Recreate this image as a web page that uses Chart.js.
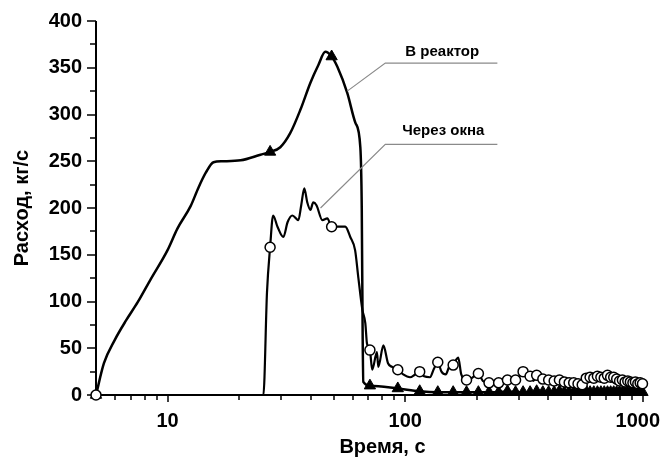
<!DOCTYPE html>
<html>
<head>
<meta charset="utf-8">
<script src="https://cdn.jsdelivr.net/npm/chart.js@4/dist/chart.umd.min.js"></script>
<style>
  html, body { margin: 0; padding: 0; background: #fff; }
  #wrap { width: 661px; height: 461px; }
</style>
</head>
<body>
<div id="wrap"><canvas id="flow" width="661" height="461"></canvas></div>
<script>
// flow into the reactor, kg/s over time, s
var reactorTime = [5, 5.4, 6, 6.7, 7.5, 8.5, 10, 11, 12.5, 13.5, 14.5, 15.6, 17, 20.3, 24.6, 27, 29.8, 32.8, 36.2, 39.9, 43.1, 46.1, 49, 51.8, 57, 61.7, 64.7, 65.6, 66.2, 66.6, 71, 93, 115, 137, 159, 181, 203, 225, 247, 269, 291, 313, 335, 357, 379, 401, 423, 445, 467, 489, 511, 533, 555, 577, 599, 621, 643, 665, 687, 709, 731, 753, 775, 797, 819, 841, 863, 885, 907, 929, 951, 973, 995];
var reactorFlow = [0, 34, 59, 80, 99.5, 124, 155, 178, 202, 222, 238, 249, 250, 251, 257, 260, 265, 280, 305, 334, 353, 367, 362, 351, 323, 291, 265, 200, 60, 14, 10, 7, 4, 3, 3, 3, 3, 3, 3, 4, 3, 3, 3, 4, 3, 3, 3, 4, 3, 3, 3, 3, 3, 4, 3, 3, 3, 3, 3, 3, 3, 3, 3, 3, 3, 3, 3, 3, 3, 3, 3, 3, 3];

// flow through the windows
var windowTime = [5, 25.3, 26.2, 27, 27.8, 29, 30.7, 32, 33.5, 35.5, 36.5, 37.6, 38.7, 39.9, 41, 42.3, 44.8, 47, 49, 52, 55.9, 58.7, 61.5, 63.5, 66, 67.9, 69, 71, 72.6, 76, 77, 80.9, 84.6, 88, 93, 98, 104.7, 110, 115, 120, 127, 132, 137, 142, 148, 153, 159, 164, 167, 172, 181, 190, 203, 212, 225, 235, 247, 258, 269, 280, 291, 302, 313, 324, 335, 346, 357, 379, 401, 423, 445, 467, 489, 511, 533, 555, 577, 599, 621, 643, 665, 687, 709, 731, 753, 775, 797, 819, 841, 863, 885, 907, 929, 951, 973, 995];
var windowFlow = [0, 0, 110, 158, 192, 180, 169, 185, 192, 187, 203, 221, 206, 198, 206, 203, 187, 189, 180, 180, 180, 169, 155, 125, 91, 77, 55, 48, 27, 46, 30, 53, 34, 30, 27, 22, 19, 22, 25, 20, 19, 28, 35, 25, 22, 30, 32, 38, 40, 22, 16, 18, 23, 15, 13, 14, 13, 17, 16, 18, 16, 20, 25, 18, 20, 15, 21, 17, 16, 15, 16, 14, 13, 13, 12, 11, 18, 19, 18, 20, 19, 18, 21, 19, 19, 17, 15, 16, 14, 15, 14, 13, 14, 12, 13, 12];

// marker times and the values at them
var markTime = [5, 27, 49, 71, 93, 115, 137, 159, 181, 203, 225, 247, 269, 291, 313, 335, 357, 379, 401, 423, 445, 467, 489, 511, 533, 555, 577, 599, 621, 643, 665, 687, 709, 731, 753, 775, 797, 819, 841, 863, 885, 907, 929, 951, 973, 995];
var reactorMarks = [0, 260, 362, 10, 7, 4, 3, 3, 3, 3, 3, 3, 4, 3, 3, 3, 4, 3, 3, 3, 4, 3, 3, 3, 3, 3, 4, 3, 3, 3, 3, 3, 3, 3, 3, 3, 3, 3, 3, 3, 3, 3, 3, 3, 3, 3];
var windowMarks = [0, 158, 180, 48, 27, 25, 35, 32, 16, 23, 13, 13, 16, 16, 25, 20, 21, 17, 16, 15, 16, 14, 13, 13, 12, 11, 18, 19, 18, 20, 19, 18, 21, 19, 19, 17, 15, 16, 14, 15, 14, 13, 14, 12, 13, 12];

var xLabels = [10, 100, 1000];
var xMinor = [6, 7, 8, 9, 20, 30, 40, 50, 60, 70, 80, 90, 200, 300, 400, 500, 600, 700, 800, 900];
var yLabels = [0, 50, 100, 150, 200, 250, 300, 350, 400];
var yMinor = [25, 75, 125, 175, 225, 275, 325, 375];

// callouts: label position, elbow, end of the leader on the curve
var callouts = [
    { text: 'В реактор', label: [143, 367], elbow: [82.4, 355], tail: 244, end: [57, 325] },
    { text: 'Через окна', label: [144.5, 283], elbow: [82.4, 268], tail: 244, end: [44, 200] }
];

var FONT = '"Liberation Sans", Arial, sans-serif';

function zip(xs, ys) {
    return xs.map(function (x, i) { return { x: x, y: ys[i] }; });
}

var axesPlugin = {
    id: 'axes',
    beforeDatasetsDraw: function (chart) {
        var ctx = chart.ctx;
        var area = chart.chartArea;
        var xs = chart.scales.x;
        var ys = chart.scales.y;
        ctx.save();
        ctx.strokeStyle = '#000';
        ctx.lineWidth = 2;
        ctx.beginPath();
        ctx.moveTo(area.left, area.top);
        ctx.lineTo(area.left, area.bottom);
        ctx.lineTo(area.right, area.bottom);
        ctx.stroke();

        ctx.lineWidth = 1.5;
        ctx.beginPath();
        yLabels.forEach(function (v) {
            var p = Math.round(ys.getPixelForValue(v));
            ctx.moveTo(area.left - 9, p);
            ctx.lineTo(area.left, p);
        });
        yMinor.forEach(function (v) {
            var p = Math.round(ys.getPixelForValue(v));
            ctx.moveTo(area.left - 6, p);
            ctx.lineTo(area.left, p);
        });
        xLabels.forEach(function (v) {
            var p = Math.round(xs.getPixelForValue(v));
            ctx.moveTo(p, area.bottom);
            ctx.lineTo(p, area.bottom + 7);
        });
        xMinor.forEach(function (v) {
            var p = Math.round(xs.getPixelForValue(v));
            ctx.moveTo(p, area.bottom);
            ctx.lineTo(p, area.bottom + 5);
        });
        ctx.stroke();

        // x tick labels, the last one kept inside the canvas
        ctx.fillStyle = '#000';
        ctx.font = 'bold 20px ' + FONT;
        ctx.textAlign = 'center';
        ctx.textBaseline = 'top';
        xLabels.forEach(function (v) {
            var text = String(v);
            var half = ctx.measureText(text).width / 2;
            var p = Math.min(xs.getPixelForValue(v), chart.width - 1 - half);
            ctx.fillText(text, p, area.bottom + 16);
        });
        ctx.restore();
    },
    afterDraw: function (chart) {
        var ctx = chart.ctx;
        var area = chart.chartArea;
        var xs = chart.scales.x;
        var ys = chart.scales.y;
        ctx.save();

        // leaders and their labels
        ctx.strokeStyle = '#8a8a8a';
        ctx.lineWidth = 1.2;
        ctx.fillStyle = '#000';
        ctx.font = 'bold 15px ' + FONT;
        ctx.textAlign = 'center';
        ctx.textBaseline = 'middle';
        callouts.forEach(function (c) {
            var ex = xs.getPixelForValue(c.elbow[0]);
            var ey = ys.getPixelForValue(c.elbow[1]);
            ctx.beginPath();
            ctx.moveTo(xs.getPixelForValue(c.tail), ey);
            ctx.lineTo(ex, ey);
            ctx.lineTo(xs.getPixelForValue(c.end[0]), ys.getPixelForValue(c.end[1]));
            ctx.stroke();
            ctx.fillText(c.text, xs.getPixelForValue(c.label[0]), ys.getPixelForValue(c.label[1]));
        });

        // axis titles
        ctx.font = 'bold 20px ' + FONT;
        ctx.fillText('Время, с', (area.left + area.right) / 2 + 13, 447);
        ctx.translate(22, (area.top + area.bottom) / 2);
        ctx.rotate(-Math.PI / 2);
        ctx.fillText('Расход, кг/с', 0, 0);
        ctx.restore();
    }
};

var ctx = document.getElementById('flow');

new Chart(ctx, {
    type: 'scatter',
    data: {
        datasets: [{
            label: 'Через окна',
            data: zip(markTime, windowMarks),
            pointStyle: 'circle',
            pointRadius: 5,
            backgroundColor: '#fff',
            borderColor: '#000',
            borderWidth: 1.5,
            clip: false,
            order: 0
        }, {
            label: 'В реактор',
            data: zip(markTime, reactorMarks),
            pointStyle: 'triangle',
            pointRadius: 6.5,
            backgroundColor: '#000',
            borderColor: '#000',
            borderWidth: 1,
            clip: false,
            order: 1
        }, {
            label: 'Через окна',
            data: zip(windowTime, windowFlow),
            showLine: true,
            pointRadius: 0,
            borderColor: '#000',
            borderWidth: 2.2,
            cubicInterpolationMode: 'monotone',
            order: 2
        }, {
            label: 'В реактор',
            data: zip(reactorTime, reactorFlow),
            showLine: true,
            pointRadius: 0,
            borderColor: '#000',
            borderWidth: 2.5,
            cubicInterpolationMode: 'monotone',
            order: 3
        }]
    },
    options: {
        responsive: false,
        animation: false,
        events: [],
        layout: { padding: { top: 21, right: 18, left: 0, bottom: 0 } },
        plugins: {
            legend: { display: false },
            tooltip: { enabled: false }
        },
        scales: {
            x: {
                type: 'logarithmic',
                min: 5,
                max: 1000,
                grid: { display: false, drawTicks: false },
                border: { display: false },
                ticks: { display: false },
                afterFit: function (scale) {
                    scale.height = 66;
                    scale.paddingLeft = 0;
                    scale.paddingRight = 0;
                }
            },
            y: {
                min: 0,
                max: 400,
                grid: { display: false, drawTicks: false },
                border: { display: false },
                afterBuildTicks: function (scale) {
                    scale.ticks = yLabels.map(function (v) { return { value: v }; });
                },
                afterFit: function (scale) {
                    scale.width = 96;
                    scale.paddingTop = 0;
                    scale.paddingBottom = 0;
                },
                ticks: {
                    padding: 14,
                    color: '#000',
                    font: { family: FONT, size: 20, weight: 'bold' }
                }
            }
        }
    },
    plugins: [axesPlugin]
});
</script>
</body>
</html>
